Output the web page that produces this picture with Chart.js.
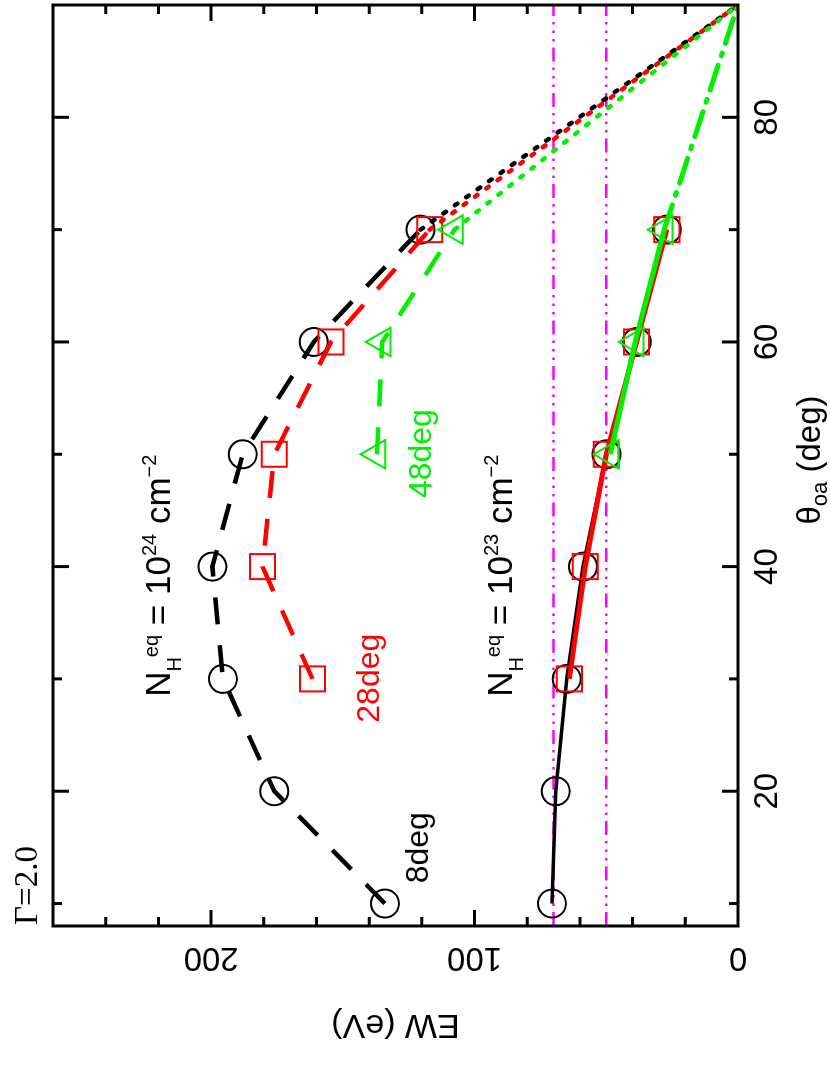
<!DOCTYPE html>
<html>
<head>
<meta charset="utf-8">
<title>EW vs theta_oa</title>
<script src="https://cdn.jsdelivr.net/npm/chart.js@4.4.0/dist/chart.umd.min.js"></script>
<style>
  html, body { margin: 0; padding: 0; background: #fff; overflow: hidden; width: 830px; height: 1092px; }
  /* the plot is drawn landscape and turned a quarter turn to the left */
  #wrap { position: absolute; left: 0; top: 0; width: 1092px; height: 830px;
          transform-origin: 0 0; transform: translate(0px, 1092px) rotate(-90deg); }
</style>
</head>
<body>
<div id="wrap"><canvas id="c" width="1092" height="830"></canvas></div>
<script>
// axis ranges
const thetaRange = [8, 90];
const ewRange = [0, 260];
const thetaTicks = [20, 40, 60, 80];
const ewTicks = [0, 100, 200];

// opening angles of the torus (deg)
const thetaAll = [10, 20, 30, 40, 50, 60, 70];
const theta28 = [30, 40, 50, 60, 70];
const theta48 = [50, 60, 70];

// N_H = 1e24 cm^-2
const ewThick8 = [134, 176, 195.5, 199.5, 188, 161, 120.5];
const ewThick28 = [161.5, 180.5, 176, 154.5, 117];
const ewThick48 = [137, 135, 107.6];

// N_H = 1e23 cm^-2
const ewThin8 = [70.6, 69.2, 65, 58.8, 49.9, 38.4, 27];
const ewThin28 = [64, 58, 50, 38.5, 27];
const ewThin48 = [48.5, 39, 28];

// edge-on limit, EW goes to zero
const thetaLimit = 90;
const ewLimit = 0;

// reference levels (magenta)
const ewRef = [70, 50];

const BLACK = '#000000', RED = '#ff0000', GREEN = '#00f000', MAGENTA = '#ff00ff';

function pts(thetas, ews) {
  return thetas.map((t, i) => ({ x: t, y: ews[i] }));
}
function tail(thetas, ews) {
  return [{ x: thetas[thetas.length - 1], y: ews[ews.length - 1] }, { x: thetaLimit, y: ewLimit }];
}

const markers = {
  circle:   { pointStyle: 'circle',   pointRadius: 14 },
  rect:     { pointStyle: 'rect',     pointRadius: 17.7 },
  triangle: { pointStyle: 'triangle', pointRadius: 16.5 }
};

function series(data, color, width, dash, marker, order, cap) {
  return Object.assign({
    data: data,
    borderColor: color,
    borderWidth: width,
    borderDash: dash,
    borderCapStyle: cap || 'butt',
    backgroundColor: 'transparent',
    pointBorderColor: color,
    pointBackgroundColor: 'transparent',
    pointBorderWidth: 2,
    pointRadius: 0,
    fill: false,
    tension: 0,
    order: order
  }, marker ? markers[marker] : {});
}

const dashed = [27, 21];
const dotted = [3, 11];
const dashDot = [26, 10, 3, 10];

const datasets = [
  ...ewRef.map(e => series([{ x: thetaRange[0], y: e }, { x: thetaRange[1], y: e }], MAGENTA, 2.5,
    [14, 6, 2.5, 6, 2.5, 6, 2.5, 6], null, 20)),

  series(pts(thetaAll, ewThick8), BLACK, 4.5, dashed, 'circle', 12),
  series(pts(theta28, ewThick28), RED, 4.5, dashed, 'rect', 11),
  series(pts(theta48, ewThick48), GREEN, 4.5, dashed, 'triangle', 10),
  series(tail(thetaAll, ewThick8), BLACK, 4.5, dotted, null, 12, 'round'),
  series(tail(theta28, ewThick28), RED, 4.5, dotted, null, 11, 'round'),
  series(tail(theta48, ewThick48), GREEN, 4.5, dotted, null, 10, 'round'),

  series(pts(thetaAll, ewThin8), BLACK, 3.5, [], 'circle', 3),
  series(pts(theta28, ewThin28), RED, 5, [], 'rect', 2),
  series(pts(theta48, ewThin48), GREEN, 5, [], 'triangle', 1),
  series(tail(theta48, ewThin48), GREEN, 5, dashDot, null, 1, 'round')
];

function drawRich(ctx, parts, x0, y0, family) {
  let x = x0;
  for (const [txt, size, dy] of parts) {
    ctx.font = size + 'px ' + family;
    ctx.fillText(txt, x, y0 + dy);
    x += ctx.measureText(txt).width;
  }
  return x - x0;
}

const SANS = '"Liberation Sans", Arial, sans-serif';
const SERIF = '"Liberation Serif", "Times New Roman", serif';

const framePlugin = {
  id: 'frame',
  afterDatasetsDraw(chart) {
    const { ctx, chartArea: a, scales: { x, y } } = chart;
    ctx.save();

    // frame
    ctx.strokeStyle = '#000';
    ctx.lineWidth = 3;
    ctx.strokeRect(a.left, a.top, a.right - a.left, a.bottom - a.top);

    // ticks on all four sides, pointing inward
    ctx.beginPath();
    for (let t = 10; t < thetaRange[1]; t += 10) {
      const px = x.getPixelForValue(t);
      const len = t % 20 === 0 ? 16 : 9;
      ctx.moveTo(px, a.bottom); ctx.lineTo(px, a.bottom - len);
      ctx.moveTo(px, a.top); ctx.lineTo(px, a.top + len);
    }
    for (let e = 20; e < ewRange[1]; e += 20) {
      const py = y.getPixelForValue(e);
      const len = e % 100 === 0 ? 16 : 9;
      ctx.moveTo(a.left, py); ctx.lineTo(a.left + len, py);
      ctx.moveTo(a.right, py); ctx.lineTo(a.right - len, py);
    }
    ctx.stroke();

    ctx.fillStyle = '#000';

    // theta tick labels
    ctx.font = '33px ' + SANS;
    ctx.textAlign = 'center';
    ctx.textBaseline = 'alphabetic';
    thetaTicks.forEach(t => ctx.fillText(String(t), x.getPixelForValue(t), a.bottom + 39));

    // EW tick labels (rotated)
    ewTicks.forEach(e => {
      ctx.save();
      ctx.translate(a.left - 22, y.getPixelForValue(e));
      ctx.rotate(-Math.PI / 2);
      ctx.fillText(String(e), 0, 0);
      ctx.restore();
    });

    // EW axis title
    ctx.save();
    ctx.font = '34px ' + SANS;
    ctx.translate(77, y.getPixelForValue((ewRange[0] + ewRange[1]) / 2));
    ctx.rotate(-Math.PI / 2);
    ctx.fillText('EW (eV)', 0, 0);
    ctx.restore();

    // theta axis title with subscript
    ctx.textAlign = 'left';
    const titleParts = [['\u03b8', 33, 0], ['oa', 22, 7], [' (deg)', 33, 0]];
    let w = 0;
    titleParts.forEach(([txt, size]) => { ctx.font = size + 'px ' + SANS; w += ctx.measureText(txt).width; });
    drawRich(ctx, titleParts, 632 - w / 2, 820, SANS);

    // Gamma label above the frame
    ctx.font = '33px ' + SERIF;
    ctx.fillText('\u0393=2.0', a.left + 1, a.top - 16);

    // column density labels
    const nh = (exp) => [['N', 35, 0], ['H', 20, 11], ['eq', 20, -12], [' = 10', 35, 0],
                         [exp, 20, -14], [' cm', 35, 0], ['\u22122', 20, -14]];
    drawRich(ctx, nh('24'), x.getPixelForValue(28.4), y.getPixelForValue(215.5), SANS);
    drawRich(ctx, nh('23'), x.getPixelForValue(28.4), y.getPixelForValue(85.8), SANS);

    // inclination labels
    ctx.font = '32px ' + SANS;
    ctx.fillStyle = BLACK;
    ctx.fillText('8deg', x.getPixelForValue(11.8), y.getPixelForValue(117.6));
    ctx.fillStyle = RED;
    ctx.fillText('28deg', x.getPixelForValue(26.1), y.getPixelForValue(136.2));
    ctx.fillStyle = GREEN;
    ctx.fillText('48deg', x.getPixelForValue(46.1), y.getPixelForValue(116.7));

    ctx.restore();
  }
};

new Chart(document.getElementById('c'), {
  type: 'line',
  data: { datasets: datasets },
  options: {
    responsive: false,
    animation: false,
    events: [],
    layout: { autoPadding: false, padding: { left: 166, right: 5, top: 53, bottom: 92 } },
    scales: {
      x: { type: 'linear', min: thetaRange[0], max: thetaRange[1], display: false },
      y: { type: 'linear', min: ewRange[0], max: ewRange[1], display: false }
    },
    plugins: { legend: { display: false }, tooltip: { enabled: false } }
  },
  plugins: [framePlugin]
});
</script>
</body>
</html>
